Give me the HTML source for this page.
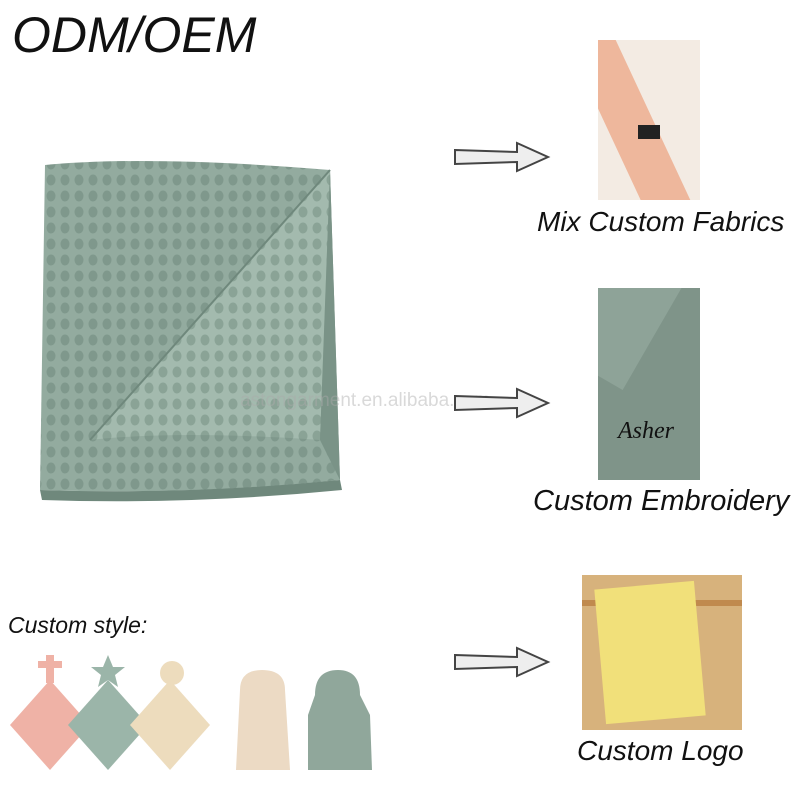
<!DOCTYPE html>
<html><head><meta charset="utf-8"><style>
body{margin:0;width:800px;height:800px;background:#fff;position:relative;overflow:hidden;font-family:"Liberation Sans",sans-serif}
.t{position:absolute;font-style:italic;color:#111;white-space:nowrap}
.a{position:absolute}
</style></head><body>
<div class="t" style="left:12px;top:6px;font-size:50px;">ODM/OEM</div>

<svg class="a" style="left:30px;top:140px" width="330" height="370" viewBox="0 0 330 370">
<defs><pattern id="w" width="14" height="16" patternUnits="userSpaceOnUse"><rect width="14" height="16" fill="#93ab9f"/><ellipse cx="7" cy="8" rx="4.5" ry="5.5" fill="#7f988c"/></pattern>
<pattern id="w2" width="14" height="16" patternUnits="userSpaceOnUse"><rect width="14" height="16" fill="#a3baae"/><ellipse cx="7" cy="8" rx="4.5" ry="5.5" fill="#8aa396"/></pattern></defs>
<path d="M15 25 Q120 15 300 30 L310 340 Q170 355 10 350 Z" fill="url(#w)"/>
<path d="M300 30 L60 300 Q150 290 290 300 Z" fill="url(#w2)"/>
<path d="M300 30 L60 300" stroke="#6f887c" stroke-width="2" fill="none"/>
<path d="M300 30 L310 340 L290 300 Z" fill="#7a9387"/>
<path d="M10 350 Q160 355 310 340 L312 350 Q160 365 12 360Z" fill="#6f887c"/>
</svg>
<div class="t" style="left:240px;top:390px;font-size:19px;color:rgba(170,170,170,.45);font-style:normal">astongarment.en.alibaba.com</div>

<svg class="a" style="left:452px;top:140px" width="100" height="34"><path d="M3 10 L65 12 L65 3 L96 17 L65 31 L65 22 L3 24 Z" fill="#eee" stroke="#444" stroke-width="2"/></svg>
<svg class="a" style="left:452px;top:386px" width="100" height="34"><path d="M3 10 L65 12 L65 3 L96 17 L65 31 L65 22 L3 24 Z" fill="#eee" stroke="#444" stroke-width="2"/></svg>
<svg class="a" style="left:452px;top:645px" width="100" height="34"><path d="M3 10 L65 12 L65 3 L96 17 L65 31 L65 22 L3 24 Z" fill="#eee" stroke="#444" stroke-width="2"/></svg>

<div class="a" style="left:598px;top:40px;width:102px;height:160px;background:#f3ebe3;overflow:hidden">
<div class="a" style="left:10px;top:-10px;width:45px;height:190px;background:#eeb79c;transform:rotate(-25deg)"></div>
<div class="a" style="left:40px;top:85px;width:22px;height:14px;background:#222"></div></div>
<div class="t" style="left:537px;top:206px;font-size:28px;">Mix Custom Fabrics</div>

<div class="a" style="left:598px;top:288px;width:102px;height:192px;background:#7f9489;overflow:hidden">
<div class="a" style="left:-20px;top:-30px;width:80px;height:120px;background:#8ea398;transform:rotate(30deg)"></div>
<div class="t" style="left:20px;top:130px;font-size:24px;font-family:'Liberation Serif',serif">Asher</div></div>
<div class="t" style="left:533px;top:485px;font-size:29px;">Custom Embroidery</div>

<div class="a" style="left:582px;top:575px;width:160px;height:155px;background:#d7b27c;overflow:hidden">
<div class="a" style="left:0;top:25px;width:160px;height:6px;background:#c08a4e"></div>
<div class="a" style="left:18px;top:10px;width:100px;height:135px;background:#f1e07a;transform:rotate(-5deg)"></div></div>
<div class="t" style="left:577px;top:735px;font-size:28px;">Custom Logo</div>

<div class="t" style="left:8px;top:612px;font-size:23px;">Custom style:</div>
<svg class="a" style="left:0;top:645px" width="380" height="140">
<g><path d="M50 35 L90 80 L50 125 L10 80Z" fill="#efb2a6"/><rect x="46" y="10" width="8" height="28" fill="#efb2a6"/><rect x="38" y="16" width="24" height="7" fill="#efb2a6"/></g>
<g><path d="M108 35 L148 80 L108 125 L68 80Z" fill="#9bb5a9"/><path d="M108 10 L113 22 L125 22 L115 30 L118 42 L108 35 L98 42 L101 30 L91 22 L103 22Z" fill="#9bb5a9"/></g>
<g><path d="M170 35 L210 80 L170 125 L130 80Z" fill="#eddcbd"/><circle cx="172" cy="28" r="12" fill="#eddcbd"/></g>
<g><path d="M240 45 Q240 25 262 25 Q285 25 285 45 L290 125 L236 125Z" fill="#ecdac4"/></g>
<g><path d="M315 50 Q315 25 338 25 Q360 25 360 50 L370 70 L372 125 L308 125 L308 70Z" fill="#90a79b"/></g>
</svg>
</body></html>
